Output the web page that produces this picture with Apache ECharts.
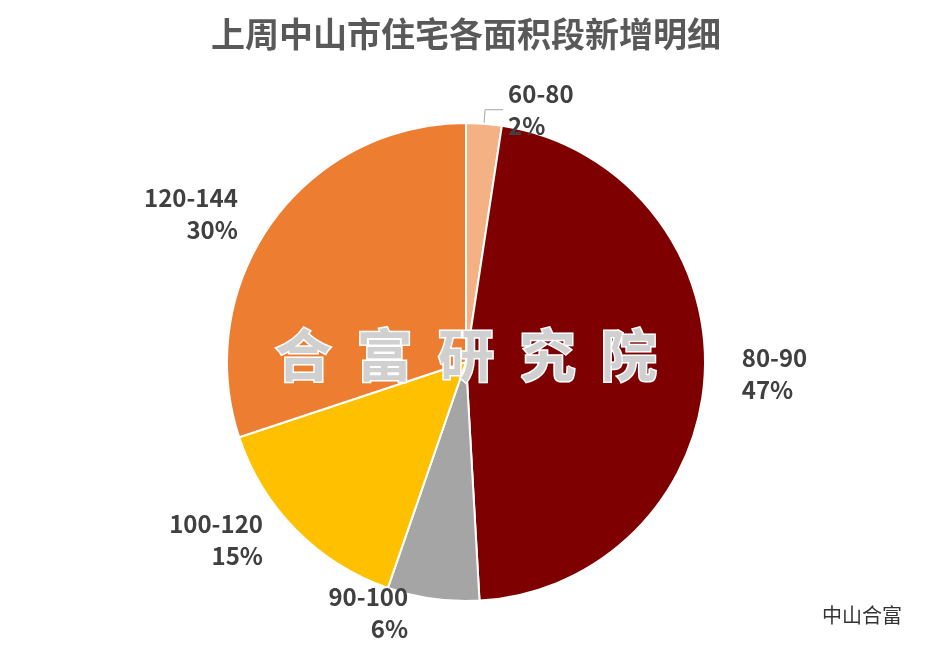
<!DOCTYPE html>
<html>
<head>
<meta charset="utf-8">
<script src="https://cdn.jsdelivr.net/npm/echarts@6/dist/echarts.min.js"></script>
<style>html,body{margin:0;padding:0;background:#fff}#chart{width:932px;height:660px}</style>
</head>
<body>
<div id="chart"></div>
<script>
var categories = ['60-80', '80-90', '90-100', '100-120', '120-144'];
var values = [2.4, 46.7, 6.2, 14.6, 30.1];
var percentLabels = ['2%', '47%', '6%', '15%', '30%'];
var colors = ['#F4B183', '#7F0000', '#A5A5A5', '#FFC000', '#ED7D31'];

var myChart = echarts.init(document.getElementById('chart'));

var data = categories.map(function (c, i) {
    return {
        name: c,
        value: values[i],
        itemStyle: { color: colors[i] },
        labelLine: { show: i === 0 }
    };
});

var option = {
    title: {
        text: '上周中山市住宅各面积段新增明细',
        left: 'center',
        top: 12,
        textStyle: { fontSize: 34, fontWeight: 'bold', color: '#595959', fontFamily: 'Noto Sans CJK SC' }
    },
    graphic: [{
        type: 'text',
        left: 'center',
        top: 325,
        z: 100,
        style: {
            text: '合  富  研  究  院',
            fontSize: 56,
            fontWeight: 'bold',
            fontFamily: 'Noto Sans CJK SC',
            fill: '#d0d0d0',
            stroke: '#ffffff',
            lineWidth: 3
        }
    }, {
        type: 'text',
        right: 30,
        top: 605,
        z: 100,
        style: { text: '中山合富', fontSize: 20, fontFamily: 'Noto Sans CJK SC', fill: '#333' }
    }],
    series: [{
        type: 'pie',
        center: [466, 362],
        radius: 239,
        startAngle: 90,
        clockwise: true,
        data: data,
        itemStyle: { borderColor: '#fff', borderWidth: 2 },
        label: {
            formatter: function (p) { return p.name + '\n' + percentLabels[p.dataIndex]; },
            fontSize: 24,
            fontWeight: 'bold',
            color: '#404040',
            lineHeight: 32,
            align: 'center',
            fontFamily: 'Noto Sans CJK SC'
        },
        labelLine: { length: 14, length2: 18, lineStyle: { color: '#a6a6a6' } }
    }]
};
myChart.setOption(option);
</script>
</body>
</html>
